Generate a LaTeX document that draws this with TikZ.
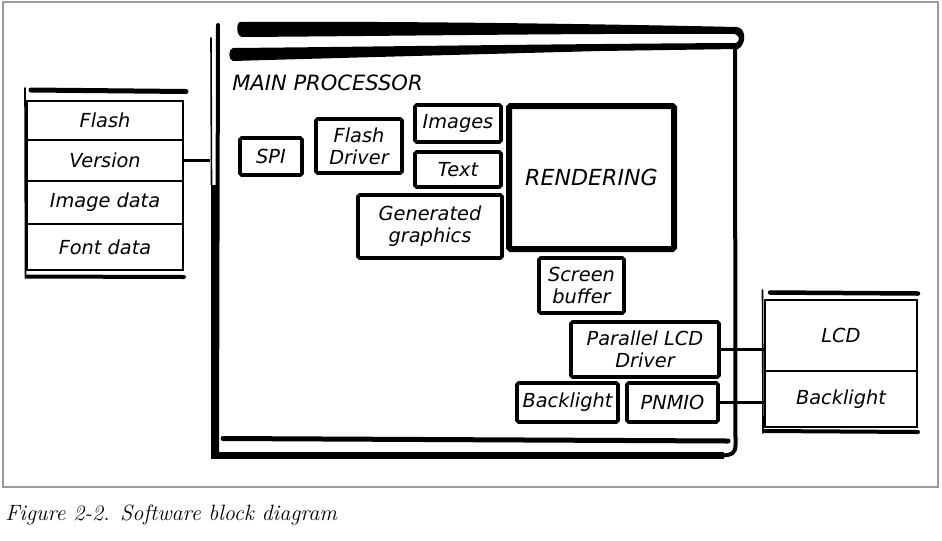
\documentclass[tikz,border=0pt]{standalone}
\usepackage{fontspec}
\newfontfamily\hand{DejaVu Sans}
\begin{document}
\begin{tikzpicture}[x=0.75pt,y=-0.75pt,
  hw/.style={font=\hand\itshape\fontsize{14.5}{16.5}\selectfont, align=center, text=black},
  hwcaps/.style={font=\hand\itshape\fontsize{15.8}{18}\selectfont, text=black},
  blk/.style={hw, draw, line width=2.7pt, rounded corners=1.2pt, inner sep=0pt},
  rowbox/.style={hw, draw, line width=1.6pt, inner sep=0pt},
  conn/.style={draw, line width=2.2pt},
  deco/.style={line cap=round, line join=round}]
\useasboundingbox (0,0) rectangle (942,540);
% gray frame
\draw[line width=1.2pt, draw=black!40] (3,2) rectangle (938,487);

% main processor region (invisible anchor node)
\node[minimum width=526*0.75pt, minimum height=433*0.75pt, inner sep=0pt] (mp) at (473,241.5) {};

% top double bar of main processor
\fill (240,22) .. controls (400,21) and (600,24) .. (737,27)
 .. controls (746,28) and (747,44) .. (738,49)
 -- (600,51) .. controls (450,55) and (300,59) .. (233,61)
 .. controls (228,60) and (228,49) .. (233,48)
 .. controls (350,47) and (550,44) .. (736,43)
 .. controls (740,41) and (740,36) .. (735,34)
 .. controls (600,33) and (400,36) .. (242,37)
 .. controls (236,36) and (236,23) .. (240,22) -- cycle;
% right side and bottom corner
\draw[deco, line width=4*0.75pt] (735,48) -- (735.5,445) .. controls (735.5,453) and (732,455) .. (722,455.5);
\draw[line width=7*0.75pt] (214,455) -- (724,455);
\draw[deco, line width=5*0.75pt] (223,438.5) -- (728,441);
% left side
\draw[deco, line width=4*0.75pt] (218,25) -- (217,455);
\draw[line width=6*0.75pt] (214,185) -- (214,459);
\draw[deco, line width=1.2pt] (211,38) -- (211.5,185);

\node[hwcaps, anchor=west, inner sep=0pt] (mptitle) at (232,83) {MAIN PROCESSOR};

% inner blocks
\node[blk, minimum width=62*0.75pt, minimum height=37*0.75pt] (spi) at (271,156.5) {SPI};
\node[blk, minimum width=86*0.75pt, minimum height=54*0.75pt] (fdrv) at (359,146) {Flash\\Driver};
\node[blk, minimum width=86*0.75pt, minimum height=37*0.75pt] (images) at (458,123.5) {Images};
\node[blk, minimum width=86*0.75pt, minimum height=35*0.75pt] (text) at (458,169.5) {Text};
\node[blk, minimum width=144*0.75pt, minimum height=63*0.75pt] (gen) at (430,226.5) {Generated\\graphics};
\node[blk, hwcaps, font=\hand\itshape\fontsize{16.6}{19}\selectfont, line width=4.5pt, minimum width=165*0.75pt, minimum height=143*0.75pt] (rend) at (591.5,177.5) {RENDERING};
\node[blk, minimum width=85*0.75pt, minimum height=55*0.75pt] (sbuf) at (581.5,285.5) {Screen\\buffer};
\node[blk, minimum width=148*0.75pt, minimum height=55*0.75pt] (plcd) at (645,349.5) {Parallel LCD\\Driver};
\node[blk, minimum width=101*0.75pt, minimum height=39*0.75pt] (blin) at (567.5,402.5) {Backlight};
\node[blk, minimum width=91*0.75pt, minimum height=39*0.75pt] (pnmio) at (672.5,402.5) {PNMIO};

% flash box
\node[rowbox, minimum width=156*0.75pt, minimum height=39*0.75pt] (flashr) at (105,120.5) {Flash};
\node[rowbox, minimum width=156*0.75pt, minimum height=41*0.75pt] (versr) at (105,160.5) {Version};
\node[rowbox, minimum width=156*0.75pt, minimum height=43*0.75pt] (imgr) at (105,202.5) {Image data};
\node[rowbox, minimum width=156*0.75pt, minimum height=46*0.75pt] (fontr) at (105,247) {Font data};
\draw[deco, line width=5*0.75pt] (31,90) -- (186,91.5);
\draw[deco, line width=1.2pt] (25,88) -- (25.5,278);
\draw[deco, line width=4*0.75pt] (27,276.5) -- (184,277);

% LCD box
\node[rowbox, minimum width=152*0.75pt, minimum height=71*0.75pt] (lcdr) at (841,335.5) {LCD};
\node[rowbox, minimum width=152*0.75pt, minimum height=56*0.75pt] (blr) at (841,399) {Backlight};
\draw[deco, line width=4.5*0.75pt] (770,292.5) -- (918,293.5);
\draw[deco, line width=1.2pt] (762.5,290) -- (763,433);
\draw[deco, line width=4*0.75pt] (765,431) -- (918,432);

% connectors
\draw[conn] (versr.east) -- (versr.east -| mp.west);
\draw[conn] (plcd.east) -- (plcd.east -| lcdr.west);
\draw[conn] (pnmio.east) -- (pnmio.east -| blr.west);

% caption
\node[anchor=base west, inner sep=0pt, font=\itshape\fontsize{16.6}{19}\selectfont] (caption) at (5,520) {Figure 2-2. Software block diagram};
\end{tikzpicture}
\end{document}
